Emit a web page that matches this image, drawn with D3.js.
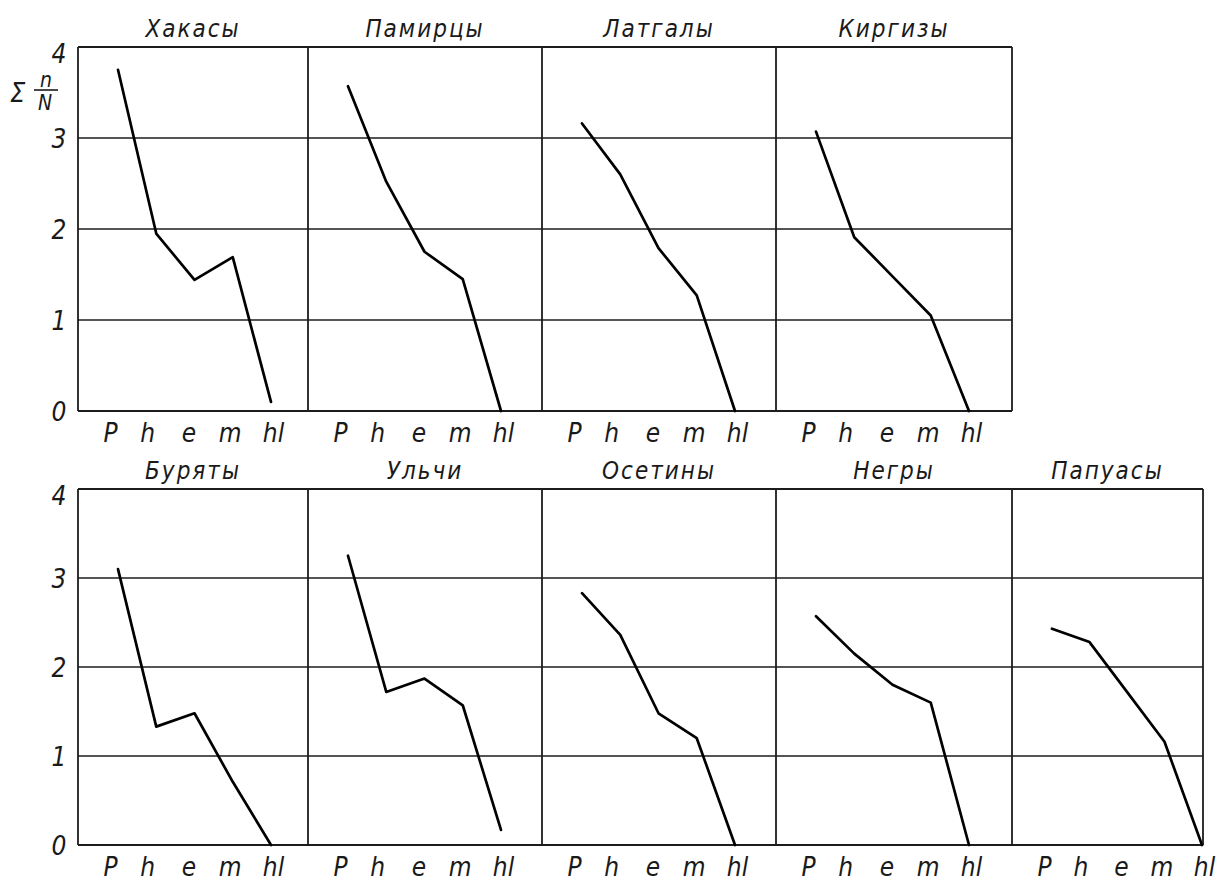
<!DOCTYPE html>
<html>
<head>
<meta charset="utf-8">
<script src="https://cdn.jsdelivr.net/npm/d3@7"></script>
<style>
  html, body { margin: 0; padding: 0; background: #fff; }
  svg { display: block; }
  text { font-family: "DejaVu Sans Condensed", "DejaVu Sans", sans-serif; font-style: italic; fill: #1a1a1a; }
</style>
</head>
<body>
<svg id="chart" width="1225" height="885"></svg>
<script>
// ---- data ----
const categories = ["P", "h", "e", "m", "hl"];
const yTicks = [0, 1, 2, 3, 4];
const topGroups = ["Хакасы", "Памирцы", "Латгалы", "Киргизы"];
const bottomGroups = ["Буряты", "Ульчи", "Осетины", "Негры", "Папуасы"];
const khakasy  = [3.75, 1.95, 1.44, 1.69, 0.10];
const pamirtsy = [3.57, 2.52, 1.75, 1.45, 0.00];
const latgaly  = [3.16, 2.60, 1.79, 1.27, 0.00];
const kirgizy  = [3.07, 1.91, 1.48, 1.05, 0.00];
const buryaty  = [3.10, 1.33, 1.48, 0.71, 0.00];
const ulchi    = [3.25, 1.72, 1.87, 1.57, 0.17];
const osetiny  = [2.83, 2.36, 1.48, 1.20, 0.00];
const negry    = [2.57, 2.15, 1.80, 1.60, 0.00];
const papuasy  = [2.43, 2.28, 1.72, 1.16, 0.00];
const topValues = [khakasy, pamirtsy, latgaly, kirgizy];
const bottomValues = [buryaty, ulchi, osetiny, negry, papuasy];

// ---- layout ----
const svg = d3.select("#chart");
const rows = [
  { groups: topGroups, values: topValues, edges: [78, 308, 542, 776, 1012], top: 47, bottom: 411, ylabel: true },
  { groups: bottomGroups, values: bottomValues, edges: [78, 308, 542, 776, 1012, 1203], top: 489, bottom: 845, ylabel: false }
];
const ink = "#1c1c1c";

rows.forEach(row => {
  const y = d3.scaleLinear().domain([0, 4]).range([row.bottom, row.top]);
  const left = row.edges[0], right = row.edges[row.edges.length - 1];
  const g = svg.append("g");

  // horizontal grid lines
  g.selectAll("line.h").data(yTicks).join("line")
    .attr("x1", left).attr("x2", right)
    .attr("y1", d => y(d)).attr("y2", d => y(d))
    .attr("stroke", ink).attr("stroke-width", d => (d === 0 || d === 4) ? 2 : 1.6);

  // vertical panel borders
  g.selectAll("line.v").data(row.edges).join("line")
    .attr("x1", d => d).attr("x2", d => d)
    .attr("y1", row.top).attr("y2", row.bottom)
    .attr("stroke", ink).attr("stroke-width", 1.8);

  // y axis labels
  const ya = g.append("g").attr("transform", `translate(${left - 19},0)`)
    .call(d3.axisLeft(y).tickValues(yTicks).tickFormat(d3.format("d")).tickSize(0).tickPadding(0));
  ya.select(".domain").remove();
  ya.selectAll("text").attr("font-size", 26).attr("font-family", null)
    .attr("text-anchor", "middle")
    .attr("dy", (d) => d === 4 ? "0.6em" : "0.38em").attr("fill", ink);

  row.groups.forEach((name, i) => {
    const x0 = row.edges[i], x1 = row.edges[i + 1];
    const w = x1 - x0;
    const x = d3.scalePoint().domain(categories).range([x0 + 40, x0 + Math.min(193, w - 1)]);

    // title
    g.append("text").attr("x", (x0 + x1) / 2).attr("y", row.top - 10)
      .attr("text-anchor", "middle").attr("font-size", 24).attr("letter-spacing", 2)
      .text(name);

    // x axis labels
    const xa = g.append("g").attr("transform", `translate(0,${row.bottom + 8})`)
      .call(d3.axisBottom(x).tickSize(0).tickPadding(0));
    xa.select(".domain").remove();
    xa.selectAll("text").attr("font-size", 26).attr("font-family", null)
      .attr("dx", (d, k) => [-8, -9, -6, -3, 2][k]).attr("dy", "0.9em").attr("fill", ink);

    // data line
    const vals = row.values[i];
    g.append("path")
      .datum(vals)
      .attr("fill", "none").attr("stroke", "#000").attr("stroke-width", 2.7)
      .attr("stroke-linejoin", "round").attr("stroke-linecap", "round")
      .attr("d", d3.line().x((d, k) => x(categories[k])).y(d => y(d)));
  });

  // y axis title
  if (row.ylabel) {
    const t = svg.append("g");
    t.append("text").attr("x", 10).attr("y", 102).attr("font-size", 27).text("Σ");
    t.append("text").attr("x", 46).attr("y", 87).attr("text-anchor", "middle").attr("font-size", 21).text("n");
    t.append("line").attr("x1", 34).attr("x2", 58).attr("y1", 90).attr("y2", 90)
      .attr("stroke", ink).attr("stroke-width", 1.6);
    t.append("text").attr("x", 45).attr("y", 110).attr("text-anchor", "middle").attr("font-size", 21).text("N");
  }
});
</script>
</body>
</html>
